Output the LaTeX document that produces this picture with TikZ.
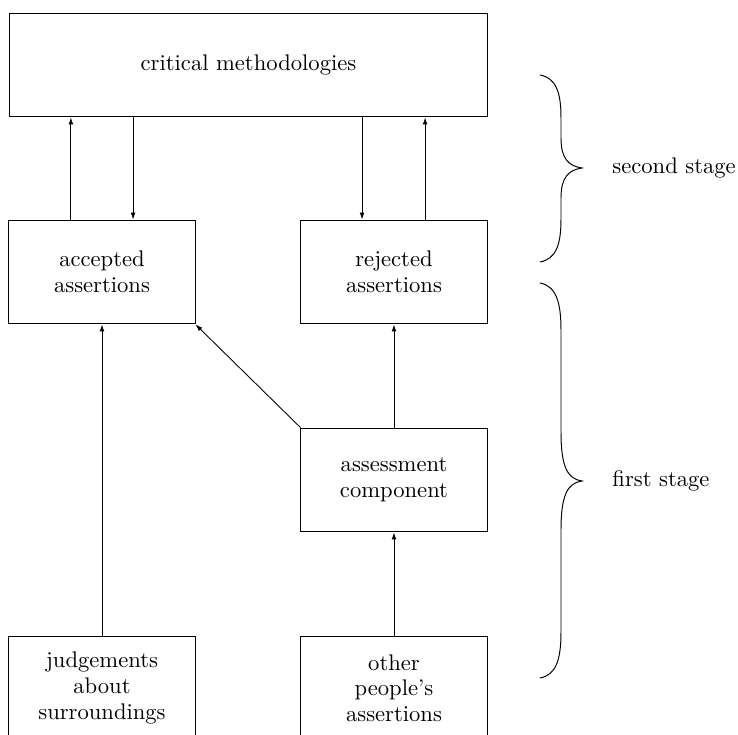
\documentclass[tikz,border=0pt]{standalone}
\usetikzlibrary{arrows.meta,calc}
\begin{document}
\begin{tikzpicture}[x=0.46pt,y=-0.46pt,
  every node/.style={font=\fontsize{10.4}{11.8}\selectfont},
  box/.style={draw,line width=0.45pt,inner sep=0pt,minimum height=47.8pt,align=center,text width=80pt},
  smallbox/.style={box,minimum width=85.6pt},
  bigbox/.style={box,minimum width=220.3pt,text width=200pt},
  arr/.style={line width=0.4pt,-{Latex[length=3.2pt,width=2.2pt]}},
  bracepath/.style={line width=0.45pt},
  stagelabel/.style={anchor=west,inner sep=0pt}]
\useasboundingbox (0,0) rectangle (738,735);
\node[bigbox] (top) at (248.5,65) {\raisebox{-1pt}{critical methodologies}};
\node[smallbox] (acc) at (102,272) {accepted\\assertions};
\node[smallbox] (rej) at (394,272) {rejected\\assertions};
\node[smallbox] (ass) at (394,480) {assessment\\component};
\node[smallbox] (jud) at (102,688) {judgements\\about\\surroundings};
\node[smallbox] (oth) at (394,688) {other\\people's\\assertions};
% second stage connectors
\draw[arr] ([xshift=-14.3pt]acc.north) -- ([xshift=-14.3pt]acc.north |- top.south);
\draw[arr] ([xshift=14.3pt]acc.north |- top.south) -- ([xshift=14.3pt]acc.north);
\draw[arr] ([xshift=-14.7pt]rej.north |- top.south) -- ([xshift=-14.7pt]rej.north);
\draw[arr] ([xshift=14.3pt]rej.north) -- ([xshift=14.3pt]rej.north |- top.south);
% first stage connectors
\draw[arr] (jud.north) -- (acc.south);
\draw[arr] (oth.north) -- (ass.north |- ass.south);
\draw[arr] (ass.north) -- (rej.south);
\draw[arr] (ass.north west) -- (acc.south east);
% braces
\draw[bracepath] (540,75) .. controls (556,78) and (561,92) .. (561,118)
  -- (561,138) .. controls (561,158) and (568,166) .. (582,168)
  .. controls (568,170) and (561,178) .. (561,198)
  -- (561,219) .. controls (561,245) and (556,259) .. (540,262);
\draw[bracepath] (540,283) .. controls (556,286) and (561,302) .. (561,330)
  -- (561,432) .. controls (561,468) and (568,479) .. (582,481)
  .. controls (568,483) and (561,494) .. (561,530)
  -- (561,632) .. controls (561,660) and (556,675) .. (540,678);
\coordinate (b2) at (582,168);
\coordinate (b1) at (582,481);
\node[stagelabel] (s2) at ([xshift=13.8pt]b2) {second stage};
\node[stagelabel] (s1) at ([xshift=13.8pt]b1) {first stage};
\end{tikzpicture}
\end{document}
